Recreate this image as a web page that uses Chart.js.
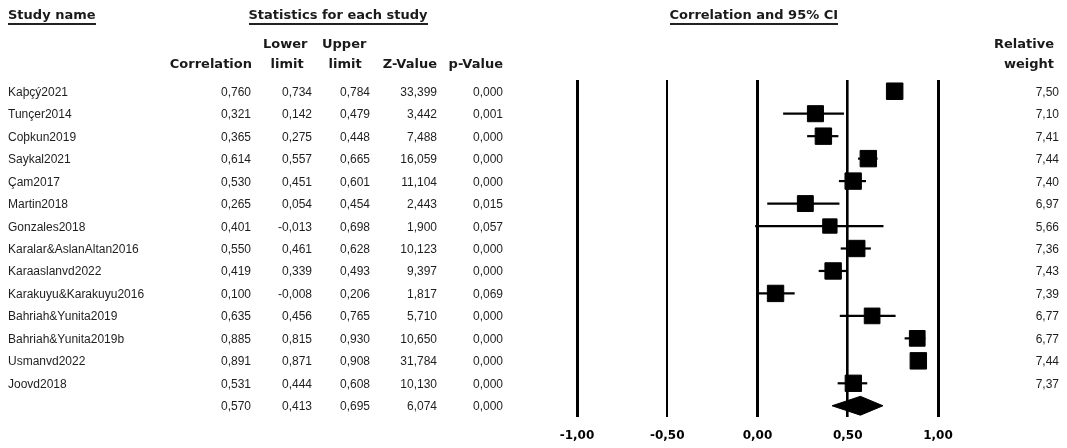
<!DOCTYPE html>
<html>
<head>
<meta charset="utf-8">
<script src="https://cdn.jsdelivr.net/npm/chart.js@4/dist/chart.umd.min.js"></script>
<style>
  html, body { margin: 0; padding: 0; background: #fff; }
  #wrap { position: relative; width: 1067px; height: 448px; overflow: hidden; }
  #c { position: absolute; left: 0; top: 0; }
  .t { position: absolute; white-space: nowrap; color: #1e1e1e; }
  .d { font-family: "Liberation Sans", Arial, sans-serif; font-size: 12px; line-height: 14px; }
  .h { font-family: "DejaVu Sans", Verdana, sans-serif; font-weight: bold; font-size: 13px; line-height: 16px; color: #1a1a1a; }
  .u { border-bottom: 2px solid #222; }
</style>
</head>
<body>
<div id="wrap">
  <canvas id="c" width="1067" height="448"></canvas>
  <div id="txt"></div>
</div>
<script>
// ---------- data ----------
const studies = ["Kaþçý2021", "Tunçer2014", "Coþkun2019", "Saykal2021", "Çam2017", "Martin2018",
  "Gonzales2018", "Karalar&AslanAltan2016", "Karaaslanvd2022", "Karakuyu&Karakuyu2016",
  "Bahriah&Yunita2019", "Bahriah&Yunita2019b", "Usmanvd2022", "Joovd2018"];
const correlation = [0.760, 0.321, 0.365, 0.614, 0.530, 0.265, 0.401, 0.550, 0.419, 0.100, 0.635, 0.885, 0.891, 0.531];
const lowerLimit  = [0.734, 0.142, 0.275, 0.557, 0.451, 0.054, -0.013, 0.461, 0.339, -0.008, 0.456, 0.815, 0.871, 0.444];
const upperLimit  = [0.784, 0.479, 0.448, 0.665, 0.601, 0.454, 0.698, 0.628, 0.493, 0.206, 0.765, 0.930, 0.908, 0.608];
const zValue      = [33.399, 3.442, 7.488, 16.059, 11.104, 2.443, 1.900, 10.123, 9.397, 1.817, 5.710, 10.650, 31.784, 10.130];
const pValue      = [0.000, 0.001, 0.000, 0.000, 0.000, 0.015, 0.057, 0.000, 0.000, 0.069, 0.000, 0.000, 0.000, 0.000];
const relWeight   = [7.50, 7.10, 7.41, 7.44, 7.40, 6.97, 5.66, 7.36, 7.43, 7.39, 6.77, 6.77, 7.44, 7.37];
// summary: correlation, lower, upper, z, p
const summaryStats = [0.570, 0.413, 0.695, 6.074, 0.000];
const tickValues = [-1, -0.5, 0, 0.5, 1];
const tickLabels = ["-1,00", "-0,50", "0,00", "0,50", "1,00"];

// ---------- helpers ----------
const fmt = (v, d) => v.toFixed(d).replace('.', ',');
const nRows = studies.length + 1;
const summaryRow = studies.length;

// CI lines: one dataset per study
const ciSets = studies.map((s, i) => ({
  type: 'line',
  data: [{ x: lowerLimit[i], y: i }, { x: upperLimit[i], y: i }],
  borderColor: '#000',
  borderWidth: 2.2,
  pointRadius: 0,
  fill: false,
  order: 3
}));

// squares sized by relative weight
const squareSet = {
  type: 'scatter',
  data: correlation.map((c, i) => ({ x: c, y: i })),
  pointStyle: 'rect',
  pointRadius: relWeight.map(w => 16.5 * Math.sqrt(w / 7.5) / Math.SQRT2),
  backgroundColor: '#000',
  borderColor: '#000',
  borderWidth: 1,
  order: 1
};

// summary diamond
const dh = 0.42;
const diamondSet = {
  type: 'line',
  data: [
    { x: summaryStats[1], y: summaryRow },
    { x: summaryStats[0], y: summaryRow - dh },
    { x: summaryStats[2], y: summaryRow },
    { x: summaryStats[0], y: summaryRow + dh },
    { x: summaryStats[1], y: summaryRow }
  ],
  borderColor: '#000',
  borderWidth: 1,
  backgroundColor: '#000',
  pointRadius: 0,
  fill: 'shape',
  tension: 0,
  order: 2
};

const gridWidths = [3, 2, 3, 2.6, 3];

const chart = new Chart(document.getElementById('c'), {
  type: 'scatter',
  data: { datasets: [...ciSets, squareSet, diamondSet] },
  options: {
    responsive: false,
    animation: false,
    devicePixelRatio: 1,
    layout: { padding: { left: 577, right: 129, top: 80, bottom: 0 } },
    plugins: { legend: { display: false }, tooltip: { enabled: false } },
    scales: {
      x: {
        type: 'linear',
        min: -1, max: 1,
        afterFit: s => { s.height = 31; },
        afterBuildTicks: s => { s.ticks = tickValues.map(v => ({ value: v })); },
        border: { display: false },
        grid: {
          color: '#000',
          lineWidth: ctx => gridWidths[ctx.index] ?? 2,
          drawTicks: false
        },
        ticks: {
          padding: 12,
          color: '#000',
          font: { family: 'DejaVu Sans', weight: 'bold', size: 12 },
          callback: (v, i) => tickLabels[tickValues.indexOf(v)] ?? ''
        }
      },
      y: {
        type: 'linear',
        min: -0.5, max: nRows - 0.5,
        reverse: true,
        display: false
      }
    }
  }
});

// ---------- table text (real DOM text) ----------
const txt = document.getElementById('txt');
function addText(str, cls, x, yc, align, lh) {
  const el = document.createElement('div');
  el.className = 't ' + cls;
  el.textContent = str;
  txt.appendChild(el);
  const h = lh;
  el.style.top = (yc - h / 2) + 'px';
  if (align === 'right') { el.style.right = (1067 - x) + 'px'; el.style.textAlign = 'right'; }
  else if (align === 'center') { el.style.left = (x - el.offsetWidth / 2) + 'px'; }
  else el.style.left = x + 'px';
  return el;
}

// headers
addText('Study name', 'h u', 8, 15, 'left', 16);
addText('Statistics for each study', 'h u', 338, 15, 'center', 16);
addText('Correlation and 95% CI', 'h u', 754, 15, 'center', 16);
addText('Correlation', 'h', 252, 63.5, 'right', 16);
addText('Lower', 'h', 285, 44, 'center', 16);
addText('limit', 'h', 287, 63.5, 'center', 16);
addText('Upper', 'h', 344, 44, 'center', 16);
addText('limit', 'h', 345, 63.5, 'center', 16);
addText('Z-Value', 'h', 437, 63.5, 'right', 16);
addText('p-Value', 'h', 503, 63.5, 'right', 16);
addText('Relative', 'h', 1054, 44, 'right', 16);
addText('weight', 'h', 1054, 63.5, 'right', 16);

const ys = chart.scales.y;
const colRights = [251, 312, 370, 437, 503];
studies.forEach((s, i) => {
  const yc = ys.getPixelForValue(i) + 0.5;
  addText(s, 'd', 8, yc, 'left', 14);
  const vals = [fmt(correlation[i], 3), fmt(lowerLimit[i], 3), fmt(upperLimit[i], 3), fmt(zValue[i], 3), fmt(pValue[i], 3)];
  vals.forEach((v, k) => addText(v, 'd', colRights[k], yc, 'right', 14));
  addText(fmt(relWeight[i], 2), 'd', 1059, yc, 'right', 14);
});
{
  const yc = ys.getPixelForValue(summaryRow) + 0.5;
  summaryStats.forEach((v, k) => addText(fmt(v, 3), 'd', colRights[k], yc, 'right', 14));
}
</script>
</body>
</html>
